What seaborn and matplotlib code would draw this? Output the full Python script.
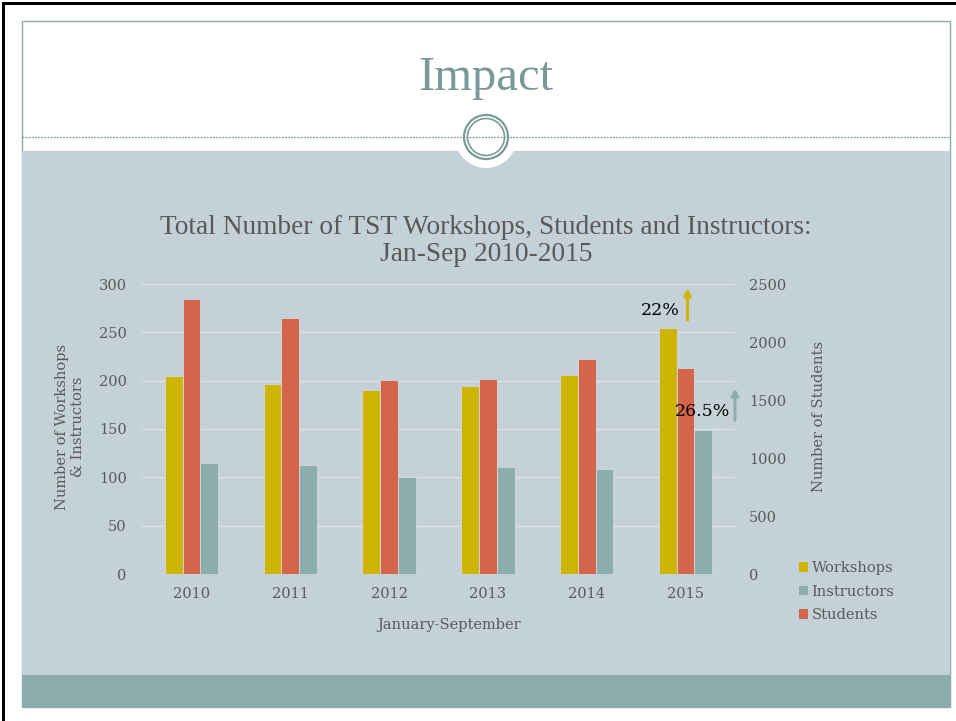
import matplotlib
matplotlib.use("Agg")
import matplotlib.pyplot as plt
from matplotlib.patches import Rectangle, Circle, Patch
import pandas as pd
import seaborn as sns

# chart values (Jan-Sep of each year)
years = ['2010', '2011', '2012', '2013', '2014', '2015']
workshops = [205, 197, 190, 194, 206, 254]
instructors = [115, 113, 100, 111, 109, 149]
students = [2375, 2205, 1672, 1682, 1850, 1778]

series_order = ['Workshops', 'Students', 'Instructors']
legend_order = ['Workshops', 'Instructors', 'Students']
colors = {'Workshops': '#CDB400', 'Students': '#D2654A', 'Instructors': '#8BADAD'}

left_ticks = [0, 50, 100, 150, 200, 250, 300]
right_ticks = [0, 500, 1000, 1500, 2000, 2500]

TXT = '#595959'
PANEL = '#C5D1D8'
TEAL = '#8AACAC'
LABEL_FONT = ['DejaVu Serif']
TITLE_FONT = ['Liberation Serif', 'DejaVu Serif']

df_left = pd.DataFrame({
    'Year': years * 2,
    'Series': ['Workshops'] * 6 + ['Instructors'] * 6,
    'Count': workshops + instructors,
})
df_right = pd.DataFrame({'Year': years, 'Series': ['Students'] * 6, 'Count': students})

fig = plt.figure(figsize=(9.56, 7.21), dpi=100, facecolor='white')

# slide decoration, drawn in pixel coordinates
bg = fig.add_axes([0, 0, 1, 1], zorder=0)
bg.set_xlim(0, 956)
bg.set_ylim(721, 0)
bg.axis('off')
bg.add_patch(Rectangle((2, 2), 3, 719, color='black', lw=0))
bg.add_patch(Rectangle((2, 2), 954, 3, color='black', lw=0))
bg.add_patch(Rectangle((22, 21), 928, 686, facecolor='white', edgecolor=TEAL, lw=1))
bg.add_patch(Rectangle((22, 151), 928, 524, color=PANEL, lw=0))
bg.add_patch(Rectangle((22, 675), 928, 32, color=TEAL, lw=0))
bg.plot([22, 950], [137, 137], ls=(0, (1.5, 1)), color='#7A9A9A', lw=0.9)
bg.add_patch(Circle((486, 137), 31, color='white', lw=0))
bg.add_patch(Circle((486, 137), 22, fill=False, edgecolor='#7A9A9A', lw=1.6))
bg.add_patch(Circle((486, 137), 18.5, fill=False, edgecolor='#7A9A9A', lw=1.2))
bg.text(486, 78, 'Impact', ha='center', va='center', fontsize=35,
        color='#7A9A9A', family=TITLE_FONT)
bg.text(486, 241, 'Total Number of TST Workshops, Students and Instructors:\nJan-Sep 2010-2015',
        ha='center', va='center', fontsize=19.7, color=TXT, family=TITLE_FONT,
        linespacing=1.15)

# chart
ax = fig.add_axes([142 / 956, 1 - 574 / 721, 593 / 956, 290 / 721], zorder=2)
ax.set_facecolor('none')
sns.barplot(data=df_left, x='Year', y='Count', hue='Series', hue_order=series_order,
            palette=colors, width=0.54, gap=0, dodge=True, saturation=1,
            legend=False, ax=ax, edgecolor='#d3d9dc', linewidth=0.6)
ax2 = ax.twinx()
sns.barplot(data=df_right, x='Year', y='Count', hue='Series', hue_order=series_order,
            palette=colors, width=0.54, gap=0, dodge=True, saturation=1,
            legend=False, ax=ax2, edgecolor='#d3d9dc', linewidth=0.6)

ax.set_ylim(0, 300)
ax2.set_ylim(0, 2500)
ax.set_yticks(left_ticks)
ax2.set_yticks(right_ticks)
ax.set_xlim(-0.5, 5.5)
ax.yaxis.grid(True, color='#dde2e5', lw=1)
ax.set_axisbelow(True)
for a in (ax, ax2):
    for s in a.spines.values():
        s.set_visible(False)
    a.tick_params(length=0, labelsize=10.5, labelcolor=TXT)
    a.set_xlabel('')
    a.set_ylabel('')
    for t in a.get_xticklabels() + a.get_yticklabels():
        t.set_family(LABEL_FONT)
ax.tick_params(axis='y', pad=11)
ax2.tick_params(axis='y', pad=10)
ax.tick_params(axis='x', pad=9)

bg.text(70, 427, 'Number of Workshops\n& Instructors', rotation=90, ha='center',
        va='center', fontsize=10.5, color=TXT, family=LABEL_FONT, linespacing=1.1)
bg.text(819, 417, 'Number of Students', rotation=90, ha='center', va='center',
        fontsize=10.5, color=TXT, family=LABEL_FONT)
bg.text(449, 625, 'January-September', ha='center', va='center', fontsize=10.5,
        color=TXT, family=LABEL_FONT)

# growth annotations
ax2.annotate('', xy=(5.02, 2465), xytext=(5.02, 2190),
             arrowprops=dict(arrowstyle='-|>', color=colors['Workshops'], lw=2.2,
                             mutation_scale=10, shrinkA=0, shrinkB=0),
             annotation_clip=False)
ax2.text(4.94, 2275, '22%', ha='right', va='center', fontsize=12.5, color='black',
         family=LABEL_FONT, zorder=5)
ax2.annotate('', xy=(5.5, 1600), xytext=(5.5, 1325),
             arrowprops=dict(arrowstyle='-|>', color=colors['Instructors'], lw=2.2,
                             mutation_scale=10, shrinkA=0, shrinkB=0),
             annotation_clip=False)
ax2.text(5.45, 1400, '26.5%', ha='right', va='center', fontsize=12.5, color='black',
         family=LABEL_FONT, zorder=5)

handles = [Patch(facecolor=colors[k], edgecolor='none', label=k) for k in legend_order]
leg = fig.legend(handles=handles, loc='upper left', bbox_to_anchor=(799, 561),
                 bbox_transform=bg.transData, frameon=False, borderpad=0,
                 borderaxespad=0, handlelength=0.62, handleheight=0.62,
                 handletextpad=0.25, labelspacing=0.66,
                 prop={'family': LABEL_FONT, 'size': 10.5})
for t in leg.get_texts():
    t.set_color(TXT)

fig.savefig('out.png', dpi=100, facecolor='white')
